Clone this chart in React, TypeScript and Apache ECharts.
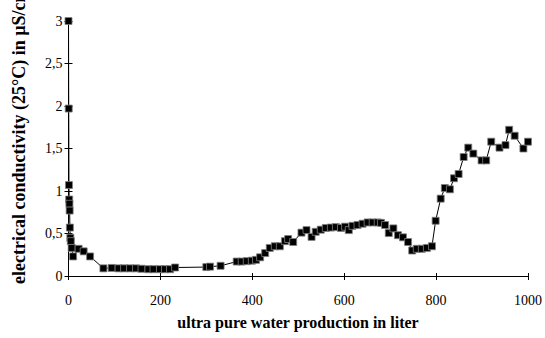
import React, { useEffect, useRef } from "react";
import * as echarts from "echarts";

const xValues = [
  0, 0.5, 1, 1.5, 2, 2.5, 3, 4, 5, 7, 10, 22, 33, 47, 76, 94, 109, 121, 134, 147, 159, 174, 185, 199, 210, 221, 232,
  300, 308, 331, 366, 377, 388, 399, 408, 417, 428, 438, 449, 460, 471, 478, 489, 507, 518, 529, 538, 549, 560, 571,
  582, 593, 602, 610, 618, 629, 640, 651, 662, 673, 680, 689, 697, 707, 717, 728, 739, 748, 758, 769, 780, 791, 799,
  810, 819, 830, 839, 849, 860, 870, 881, 899, 909, 920, 938, 951, 959, 971, 990, 1000,
];
const yValues = [
  3.0, 1.97, 1.07, 0.9, 0.85, 0.77, 0.57, 0.45, 0.41, 0.33, 0.23, 0.32, 0.29, 0.23, 0.09, 0.095, 0.09, 0.09, 0.09, 0.09,
  0.085, 0.08, 0.08, 0.08, 0.08, 0.08, 0.1, 0.105, 0.11, 0.12, 0.17, 0.17, 0.175, 0.18, 0.19, 0.22, 0.27, 0.33, 0.35,
  0.35, 0.41, 0.435, 0.4, 0.51, 0.54, 0.46, 0.52, 0.545, 0.565, 0.57, 0.575, 0.565, 0.58, 0.54, 0.59, 0.6, 0.615, 0.63,
  0.63, 0.63, 0.625, 0.6, 0.505, 0.56, 0.48, 0.455, 0.4, 0.3, 0.32, 0.32, 0.33, 0.35, 0.65, 0.91, 1.035, 1.02, 1.15,
  1.2, 1.4, 1.51, 1.44, 1.36, 1.36, 1.58, 1.51, 1.54, 1.72, 1.65, 1.5, 1.58,
];
const xTitle = "ultra pure water production in liter";
const yTitle = "electrical conductivity (25°C) in µS/cm";

const FONT = "Liberation Serif";

export default function App() {
  const ref = useRef<HTMLDivElement>(null);
  useEffect(() => {
    if (!ref.current) return;
    const chart = echarts.init(ref.current, null, { renderer: "svg" });
    const axisLine = { show: true, lineStyle: { color: "#000", width: 1 } };
    chart.setOption({
      animation: false,
      backgroundColor: "#fff",
      textStyle: { fontFamily: FONT, color: "#000" },
      grid: { left: 68.5, right: 17, top: 21, bottom: 62 },
      xAxis: [
        {
          type: "value",
          min: 0,
          max: 1000,
          interval: 200,
          splitLine: { show: false },
          axisLine,
          axisTick: { show: true, inside: false, length: 4, lineStyle: { color: "#000" } },
          axisLabel: {
            color: "#000",
            fontFamily: FONT,
            fontSize: 14,
            margin: 17,
            formatter: (v: number) => String(v),
          },
        },
        {
          type: "value",
          position: "bottom",
          min: 0,
          max: 1000,
          interval: 200,
          splitLine: { show: false },
          axisLine: { show: false },
          axisTick: { show: true, inside: true, length: 3, lineStyle: { color: "#000" } },
          axisLabel: { show: false },
        },
      ],
      yAxis: [
        {
          type: "value",
          min: 0,
          max: 3,
          interval: 0.5,
          splitLine: { show: false },
          axisLine,
          axisTick: { show: true, inside: false, length: 4, lineStyle: { color: "#000" } },
          axisLabel: {
            color: "#000",
            fontFamily: FONT,
            fontSize: 14,
            margin: 6,
            formatter: (v: number) => String(v).replace(".", ","),
          },
        },
        {
          type: "value",
          position: "left",
          min: 0,
          max: 3,
          interval: 0.5,
          splitLine: { show: false },
          axisLine: { show: false },
          axisTick: { show: true, inside: true, length: 4, lineStyle: { color: "#000" } },
          axisLabel: { show: false },
        },
      ],
      graphic: [
        {
          type: "text",
          x: 298,
          y: 322,
          style: {
            text: xTitle,
            fontFamily: FONT,
            fontWeight: "bold",
            fontSize: 16,
            fill: "#000",
            textAlign: "center",
            textVerticalAlign: "middle",
          },
        },
        {
          type: "text",
          x: 19,
          y: 284,
          rotation: Math.PI / 2,
          style: {
            text: yTitle,
            fontFamily: FONT,
            fontWeight: "bold",
            fontSize: 18,
            fill: "#000",
            textAlign: "left",
            textVerticalAlign: "middle",
          },
        },
      ],
      series: [
        {
          type: "line",
          xAxisIndex: 0,
          yAxisIndex: 0,
          data: xValues.map((x, i) => [x, yValues[i]]),
          clip: false,
          symbol: "rect",
          symbolSize: 7,
          lineStyle: { color: "#000", width: 1 },
          itemStyle: { color: "#000", borderColor: "#808080", borderWidth: 0.8 },
        },
      ],
    });
    return () => chart.dispose();
  }, []);
  return <div ref={ref} style={{ width: 545, height: 338, position: "absolute", left: 0, top: 0 }} />;
}
